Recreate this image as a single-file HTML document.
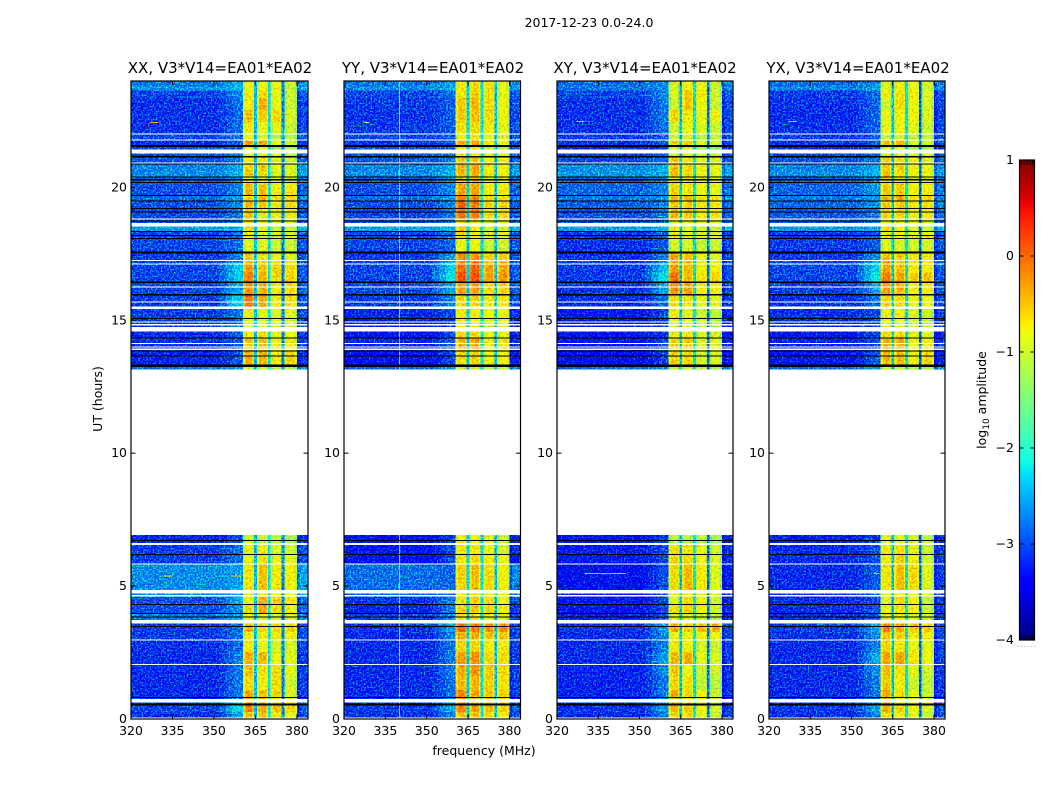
<!DOCTYPE html>
<html lang="en">
<head>
<meta charset="utf-8">
<title>2017-12-23 0.0-24.0</title>
<style>
html,body{margin:0;padding:0;background:#fff;width:1050px;height:800px;overflow:hidden}
svg{display:block}
text{font-family:"DejaVu Sans","Liberation Sans",sans-serif;fill:#000}
.t{font-size:12.5px}
.title{font-size:15px;text-anchor:middle}
</style>
</head>
<body>
<svg id="chart" xmlns="http://www.w3.org/2000/svg" width="1050" height="800" viewBox="0 0 1050 800">
<defs>
<filter id="grain" filterUnits="userSpaceOnUse" x="120" y="70" width="840" height="660" color-interpolation-filters="sRGB">
<feTurbulence type="fractalNoise" baseFrequency="0.62" numOctaves="1" seed="7" result="n"/>
<feColorMatrix in="n" type="matrix" values="0 0 0 0 0.25  0 2.4 0 0 -1.0  0 0 2 0 -0.75  0 0 0 0 1" result="m"/>
<feComposite in="SourceGraphic" in2="m" operator="arithmetic" k1="0" k2="1" k3="1" k4="-0.25" result="a"/>
<feComposite in="a" in2="SourceGraphic" operator="in"/>
</filter>
<filter id="band-grain" filterUnits="userSpaceOnUse" x="120" y="70" width="840" height="660" color-interpolation-filters="sRGB">
<feTurbulence type="fractalNoise" baseFrequency="0.5" numOctaves="1" seed="11" result="n"/>
<feColorMatrix in="n" type="matrix" values="0.7 0 0 0 -0.1  0 0.9 0 0 -0.2  0 0 0 0 0.25  0 0 0 0 1" result="m"/>
<feComposite in="SourceGraphic" in2="m" operator="arithmetic" k1="0" k2="1" k3="1" k4="-0.25" result="a"/>
<feComposite in="a" in2="SourceGraphic" operator="in"/>
</filter>
</defs>
<text class="t" x="589" y="27" text-anchor="middle">2017-12-23 0.0-24.0</text>
<text class="title" x="220" y="73">XX, V3*V14=EA01*EA02</text>
<text class="title" x="433" y="73">YY, V3*V14=EA01*EA02</text>
<text class="title" x="645" y="73">XY, V3*V14=EA01*EA02</text>
<text class="title" x="858" y="73">YX, V3*V14=EA01*EA02</text>
<text class="t" x="484" y="755" text-anchor="middle">frequency (MHz)</text>
<text class="t" x="0" y="0" text-anchor="middle" transform="translate(102,399) rotate(-90)">UT (hours)</text>
<text class="t" x="0" y="0" text-anchor="middle" transform="translate(986,400) rotate(-90)">log<tspan font-size="9" dy="3">10</tspan><tspan dy="-3"> amplitude</tspan></text>
<text x="1017" y="647" style="font-size:7px;fill:#888;letter-spacing:1.1px">......</text>
</svg>
<script>
// Axis data
const freqTicks = [320, 335, 350, 365, 380];
const hourTicks = [0, 5, 10, 15, 20];
const colorbarTicks = [-4, -3, -2, -1, 0, 1];
const colorbarTickLabels = ['\u22124', '\u22123', '\u22122', '\u22121', '0', '1'];
const colorbarEndTicks = [0.12, 0.3, 0.5, 0.7, 0.88];

// Time-bin edges (UT hours), one more than the number of rows below
const timeEdges = [24,23.8,23.65,23.35,22.9,22.45,22.05,21.8,21.58,21.32,21.17,20.9,20.64,20.41,20.15,19.7,19.47,19.2,18.83,18.53,18.35,18.08,17.56,17.18,16.8,16.43,15.98,15.49,15.08,14.7,14.36,13.87,13.31,13.14,6.92,6.54,6.2,5.83,4.85,4.59,4.32,3.98,3.61,3.27,2.97,2.52,2.07,1.62,1.09,0.64,0.26,0.06];

// Frequency-bin edges (MHz)
const freqEdges = [320,352,354.5,357,360.5,361.4,364,364.5,365.5,366.3,369,369.5,370.5,371.3,374,374.5,375.5,376.3,379.1,380,381,384];

// log10 amplitude per row: [background, band-edge glow, sub-band 1, 2, 3, 4]
const rowsXX = [
[-2.75,-2.5,-.8,-.8,-.8,-1],[-2.6,-2.4,-.8,-.7,-.8,-1],[-3,-2.7,-.7,-.6,-.8,-1],[-3.1,-2.8,-.7,-.35,-.8,-1],[-3.1,-2.8,-.45,-.5,-.6,-.9],[-3.1,-2.8,-.7,-.8,-.85,-1],[-3,-2.8,-.8,-.9,-1.1,-1.1],[-3.1,-2.9,-.3,-.3,-.85,-1],[-3,-2.9,-.8,-.8,-1.2,-1.2],[-3,-2.8,-.9,-.9,-1,-1.1],[-2.95,-2.75,-.75,-.7,-.85,-1],[-2.7,-2.5,-.55,-.5,-.8,-.9],[-2.65,-2.45,-.5,-.6,-.85,-.9],[-2.85,-2.6,-.7,-.8,-.95,-1],[-2.95,-2.7,-.4,-.45,-.75,-.7],[-2.8,-2.55,-.6,-.4,-.6,-.6],[-2.95,-2.7,-.45,-.5,-.7,-.6],[-3,-2.75,-.5,-.7,-.7,-.7],[-2.95,-2.75,-.7,-.8,-.9,-.9],[-2.55,-2.45,-.6,-.8,-1,-1],[-3,-2.8,-.7,-.85,-.9,-.9],[-3,-2.8,-.85,-.85,-1,-1],[-3.05,-2.7,-.5,-.6,-.8,-.85],[-3,-2.3,-.25,-.45,-.55,-.6],[-3,-2.3,-.1,-.4,-.6,-.55],[-3,-2.5,-.2,-.35,-.7,-.6],[-3.05,-2.3,-.05,-.3,-.7,-.65],[-3.05,-2.8,-.75,-.85,-.9,-.85],[-3.1,-2.9,-.85,-.9,-.95,-.95],[-3.15,-2.9,-.7,-.6,-.8,-.8],[-3.1,-2.9,-.5,-.45,-.75,-.7],[-3.2,-2.9,-.35,-.4,-.7,-.55],[-2.75,-2.55,-.9,-.9,-1,-1.1],
null,
[-3.2,-3,-.9,-.95,-1,-1.1],[-3.05,-2.8,-.75,-.7,-.9,-1],[-3.05,-2.8,-.75,-.6,-.8,-.85],[-2.65,-2.55,-.65,-.45,-.7,-.75],[-2.7,-2.6,-.7,-.7,-.75,-.8],[-2.95,-2.5,-.75,-.35,-.55,-.7],[-2.95,-2.65,-.6,-.35,-.6,-.75],[-2.75,-2.5,-.7,-.8,-.9,-.9],[-3.05,-2.8,-.35,-.55,-.6,-.55],[-3.05,-2.8,-.7,-.7,-.75,-.75],[-3.1,-2.8,-.7,-.8,-.9,-.9],[-3.15,-2.7,-.35,-.4,-.8,-.85],[-3.15,-2.75,-.45,-.65,-.6,-.85],[-3.15,-2.75,-.6,-.7,-.6,-.95],[-3.15,-2.75,-.3,-.45,-.55,-.9],[-3,-2.2,-.15,-.35,-.45,-.55],[-3.1,-2.55,-.5,-.5,-.7,-.8]
];
const rowsYY = [
[-2.75,-2.55,-.7,-.6,-.65,-.85],[-2.65,-2.45,-.7,-.6,-.65,-.85],[-3,-2.8,-.65,-.5,-.65,-.85],[-3.05,-2.9,-.5,-.4,-.6,-.8],[-3.1,-2.9,-.5,-.45,-.6,-.8],[-3.05,-2.9,-.65,-.6,-.7,-.85],[-3,-2.9,-.75,-.7,-.85,-.9],[-3.1,-2.9,-.3,-.3,-.65,-.75],[-3,-2.9,-.7,-.7,-1,-1.05],[-3,-2.8,-.75,-.7,-.9,-.95],[-2.95,-2.75,-.5,-.5,-.75,-.85],[-2.7,-2.5,-.35,-.3,-.7,-.75],[-2.65,-2.45,-.4,-.35,-.7,-.75],[-2.85,-2.6,-.55,-.5,-.8,-.85],[-2.95,-2.7,-.3,-.3,-.7,-.7],[-2.8,-2.6,-.1,-.15,-.6,-.6],[-2.95,-2.7,.05,-.1,-.6,-.55],[-3,-2.75,-.05,-.1,-.65,-.6],[-2.95,-2.75,-.6,-.65,-.85,-.85],[-2.55,-2.45,-.5,-.7,-.95,-.95],[-3,-2.8,-.55,-.7,-.85,-.85],[-3,-2.85,-.8,-.8,-1,-.95],[-3.05,-2.55,-.15,-.2,-.55,-.55],[-3,-2.3,0,.05,-.3,-.3],[-3,-2.2,.15,.15,-.25,-.2],[-3,-2.55,-.3,-.3,-.6,-.55],[-3.05,-2.7,-.6,-.55,-.7,-.7],[-3.2,-3,-.7,-.7,-.8,-.8],[-3.3,-3.1,-.75,-.8,-.9,-.9],[-3.3,-3,-.6,-.55,-.8,-.8],[-3.2,-2.9,-.35,-.3,-.75,-.65],[-3.35,-3,-.6,-.55,-.8,-.75],[-2.8,-2.6,-.9,-.9,-1,-1.05],
null,
[-3.4,-3.1,-.75,-.8,-.85,-1],[-3.3,-3,-.7,-.65,-.8,-.95],[-3.4,-3,-.65,-.55,-.7,-.8],[-2.8,-2.85,-.55,-.45,-.6,-.75],[-2.85,-2.85,-.6,-.55,-.7,-.8],[-3.1,-2.75,-.65,-.55,-.65,-.8],[-3.2,-2.75,-.55,-.5,-.6,-.75],[-3,-2.65,-.65,-.7,-.8,-.85],[-3.1,-2.55,0,-.1,-.2,-.2],[-3.15,-2.7,-.35,-.35,-.45,-.5],[-3.15,-2.8,-.55,-.6,-.7,-.7],[-3.15,-2.75,-.25,-.2,-.6,-.6],[-3.15,-2.75,-.35,-.2,-.5,-.6],[-3.15,-2.8,-.4,-.4,-.55,-.65],[-3.15,-2.8,-.15,-.35,-.5,-.55],[-3.05,-2.5,-.1,-.3,-.45,-.5],[-3.1,-2.7,-.45,-.45,-.6,-.7]
];
const rowsXY = [
[-2.8,-2.65,-.9,-.75,-.8,-1],[-2.75,-2.65,-.9,-.7,-.8,-1],[-3,-2.7,-.9,-.5,-.7,-1],[-3.1,-2.75,-.95,-.5,-.75,-1],[-3.1,-2.75,-.55,-.7,-.85,-.8],[-3.1,-2.8,-.95,-.8,-.9,-1],[-3.05,-2.9,-1,-.9,-1.1,-1.05],[-3.1,-2.9,-.5,-.55,-.95,-1],[-3.25,-3,-.9,-.85,-1.2,-1.3],[-3.1,-2.9,-1,-.9,-1.05,-1.1],[-3,-2.8,-.5,-.7,-.85,-.9],[-2.65,-2.5,-.45,-.6,-.75,-.8],[-2.6,-2.45,-.45,-.6,-.8,-.85],[-2.85,-2.6,-.6,-.75,-.85,-.9],[-2.85,-2.7,-.55,-.65,-.8,-.85],[-2.75,-2.6,-.35,-.4,-.65,-.6],[-2.9,-2.7,-.5,-.55,-.7,-.7],[-2.95,-2.75,-.4,-.5,-.7,-.65],[-2.95,-2.75,-.75,-.8,-.85,-.85],[-2.55,-2.45,-.65,-.85,-.95,-1],[-3.1,-2.9,-.7,-.85,-.9,-.9],[-3.1,-2.9,-.9,-.9,-1.05,-1],[-3.1,-2.75,-.3,-.45,-.8,-.85],[-3.05,-2.4,-.25,-.4,-.75,-.75],[-3.05,-2.2,0,-.4,-.65,-.6],[-3.1,-2.55,-.2,-.3,-.75,-.75],[-3.15,-2.8,-.6,-.65,-.85,-.85],[-3.3,-3,-.7,-.85,-1,-1.1],[-3.35,-3.1,-.85,-.85,-1,-1.1],[-3.35,-3.1,-.7,-.7,-.95,-.95],[-3.3,-3,-.55,-.5,-.9,-.85],[-3.4,-3,-.55,-.6,-.95,-.9],[-2.8,-2.6,-.9,-1,-1.1,-1.2],
null,
[-3.4,-3.1,-1,-1.05,-1.05,-1.2],[-3.25,-3,-.6,-.65,-.85,-1],[-3.3,-3,-.55,-.55,-.8,-.95],[-3.35,-2.95,-.6,-.4,-.7,-.9],[-3.3,-2.95,-.75,-.7,-.85,-.95],[-3.3,-3,-.85,-.6,-.8,-1],[-3.3,-3,-.6,-.55,-.75,-1],[-3.2,-2.85,-.85,-.85,-.95,-1.1],[-3.1,-2.55,-.3,-.5,-.4,-.4],[-3.15,-2.7,-.8,-.75,-.75,-.8],[-3.15,-2.75,-.7,-.75,-.95,-1],[-3.15,-2.55,-.4,-.35,-.85,-.95],[-3.2,-2.65,-.5,-.8,-1,-.95],[-3.2,-2.75,-.6,-.65,-1.05,-1.1],[-3.2,-2.75,-.3,-.6,-.75,-1],[-3.1,-2.55,-.35,-.5,-.75,-.95],[-3.15,-2.75,-.6,-.6,-.85,-1]
];
const rowsYX = [
[-2.8,-2.65,-.85,-.75,-.8,-.95],[-2.7,-2.55,-.8,-.7,-.8,-.95],[-3.05,-2.8,-.7,-.65,-.75,-.9],[-3.1,-2.85,-.95,-.6,-.8,-.95],[-3.15,-2.85,-.8,-.75,-.75,-.9],[-3.1,-2.85,-.8,-.8,-.85,-1],[-3.05,-2.9,-1,-.95,-1.05,-1.05],[-3.1,-2.9,-.45,-.4,-.9,-1],[-3.2,-3,-.9,-.9,-1.15,-1.2],[-3.05,-2.9,-.95,-.9,-.95,-1],[-2.95,-2.8,-.55,-.6,-.75,-.85],[-2.7,-2.5,-.5,-.55,-.75,-.8],[-2.65,-2.45,-.45,-.6,-.75,-.8],[-2.85,-2.6,-.6,-.7,-.9,-.9],[-2.85,-2.6,-.5,-.5,-.75,-.75],[-2.75,-2.6,-.35,-.3,-.65,-.55],[-2.85,-2.65,-.5,-.5,-.7,-.65],[-2.9,-2.7,-.55,-.6,-.75,-.7],[-2.95,-2.75,-.75,-.8,-.85,-.85],[-2.6,-2.5,-.65,-.8,-1,-1],[-3.05,-2.9,-.65,-.7,-.8,-.75],[-3.05,-2.9,-.85,-.9,-.95,-.95],[-3.05,-2.65,-.4,-.5,-.7,-.75],[-3,-2.3,-.3,-.45,-.7,-.7],[-3,-2.15,-.05,-.3,-.5,-.45],[-3.05,-2.55,-.3,-.4,-.75,-.7],[-3.1,-2.8,-.55,-.6,-.8,-.8],[-3.15,-3,-.75,-.75,-.95,-1],[-3.2,-3,-.85,-.85,-1,-1.05],[-3.3,-3,-.6,-.6,-.85,-.9],[-3.2,-3,-.35,-.35,-.75,-.7],[-3.3,-2.9,-.4,-.45,-.75,-.55],[-2.8,-2.6,-.85,-.9,-1,-1.05],
null,
[-3.25,-3.05,-.85,-.9,-.95,-1.05],[-3.15,-2.95,-.7,-.65,-.85,-1],[-3.15,-2.95,-.7,-.55,-.75,-.95],[-3.15,-2.9,-.65,-.45,-.6,-.9],[-3.1,-2.9,-.8,-.75,-.85,-.95],[-3.15,-3,-.85,-.6,-.75,-1],[-3.15,-2.9,-.8,-.7,-.75,-1],[-3.1,-2.9,-.75,-.75,-.9,-1],[-3.05,-2.5,-.15,-.35,-.5,-.5],[-3.1,-2.65,-.5,-.55,-.7,-.7],[-3.15,-2.7,-.55,-.65,-.8,-.85],[-3.15,-2.5,-.3,-.3,-.65,-.8],[-3.15,-2.65,-.45,-.6,-.85,-.95],[-3.15,-2.75,-.5,-.7,-1,-1.05],[-3.15,-2.8,-.3,-.6,-.8,-1],[-3.05,-2.55,-.35,-.55,-.75,-.9],[-3.1,-2.7,-.6,-.65,-.85,-1]
];

// Narrow channel dips between sub-bands: [365 MHz, 370 MHz, 375 MHz]
const dipsXX = [-2.4,-2.2,-2.7];
const dipsYY = [-2.3,-2.2,-2.4];
const dipsXY = [-2.4,-2.2,-2.8];
const dipsYX = [-2.4,-2.2,-2.9];

// Narrow RFI: [start MHz, end MHz, hour, log10 amplitude]
const streaksXX = [[327,330,22.45,-0.5],[332,335,5.4,-0.8],[356,360,5.4,-0.4]];
const streaksYY = [[327,329,22.45,-1.0]];
const streaksXY = [[327,330,22.5,-1.6],[330,345,5.5,-2.1]];
const streaksYX = [[327,330,22.5,-1.6],[358,360,5.5,-1.7]];

// Persistent single-channel line in YY: [MHz, log10 amplitude]
const channelLinesYY = [[340,-1.6]];

// Flagged time ranges [start hour, end hour], shared by all polarisations
const blankRanges = [[22.03,21.98],[21.8,21.77],[21.43,21.28],[20.94,20.9],[18.83,18.8],[18.66,18.53],[17.26,17.22],[17.14,17.11],[16.27,16.23],[15.71,15.68],[15.51,15.43],[14.95,14.91],[14.85,14.81],[14.74,14.57],[14.15,14.11],[14.02,13.98],[13.93,13.89],[6.63,6.55],[5.85,5.81],[4.85,4.73],[4.66,4.6],[3.72,3.6],[2.99,2.95],[2.07,2.03],[0.75,0.63]];
const zeroRanges = [[21.59,21.51],[21.17,21.13],[20.9,20.87],[20.41,20.38],[20.31,20.26],[20.2,20.16],[19.72,19.68],[19.51,19.47],[19.22,19.18],[19.1,19.06],[18.76,18.72],[18.36,18.33],[18.2,18.16],[18.1,18.06],[17.58,17.52],[16.45,16.41],[15.98,15.94],[15.08,15.04],[14.36,14.32],[13.87,13.83],[13.68,13.65],[13.33,13.25],[6.73,6.69],[6.2,6.17],[4.32,4.29],[3.98,3.95],[3.85,3.82],[3.5,3.47],[0.83,0.79],[0.58,0.51]];

// --- rendering ---
const NS = 'http://www.w3.org/2000/svg';
const svg = document.getElementById('chart');
function make(tag, parent, attrs) {
  const e = document.createElementNS(NS, tag);
  for (const k in attrs) e.setAttribute(k, attrs[k]);
  parent.appendChild(e);
  return e;
}
function interp(t, pts) {
  for (let i = 1; i < pts.length; i++) {
    if (t <= pts[i][0]) {
      const a = pts[i - 1], b = pts[i];
      return a[1] + (b[1] - a[1]) * (t - a[0]) / (b[0] - a[0]);
    }
  }
  return pts[pts.length - 1][1];
}
const jetR = [[0,0],[0.35,0],[0.66,1],[0.89,1],[1,0.5]];
const jetG = [[0,0],[0.125,0],[0.375,1],[0.64,1],[0.91,0],[1,0]];
const jetB = [[0,0.5],[0.11,1],[0.34,1],[0.65,0],[1,0]];
function colorOf(v) {
  const t = Math.max(0, Math.min(1, (v + 4) / 5));
  return 'rgb(' + Math.round(255 * interp(t, jetR)) + ',' + Math.round(255 * interp(t, jetG)) + ',' + Math.round(255 * interp(t, jetB)) + ')';
}
function yOf(h) { return 719 - h * (719 - 81) / 24; }

// value of column c (index into freqEdges) for a given row
function cellValue(row, dips, c) {
  const bg = row[0], glow = row[1];
  if (c === 0) return bg;
  if (c === 1) return bg + (glow - bg) * 0.3;
  if (c === 2) return bg + (glow - bg) * 0.65;
  if (c === 3) return glow;
  if (c >= 19) return c === 19 ? bg - 0.12 : bg + 0.12;
  const k = c - 4;
  const band = Math.floor(k / 4);
  const pos = k % 4;
  if (pos === 0) return row[2 + band] - 0.32;
  if (pos === 1) return row[2 + band];
  if (pos === 2) return row[2 + band] - 0.32;
  return dips[band];
}
function isBandColumn(c) { return c >= 4 && c < 19 && (c - 4) % 4 !== 3; }

function drawPanel(p) {
  const g = make('g', svg, {});
  
  
  const xOf = f => p.x0 + (f - 320) * (p.x1 - p.x0) / 64;
  const cells = make('g', g, { filter: 'url(#grain)', 'shape-rendering': 'crispEdges' });
  
  
  const bandCells = make('g', g, { filter: 'url(#band-grain)', 'shape-rendering': 'crispEdges' });
  
  
  p.rows.forEach((row, r) => {
    if (!row) return;
    const y0 = yOf(timeEdges[r]), y1 = yOf(timeEdges[r + 1]);
    for (let c = 0; c < freqEdges.length - 1; c++) {
      const x0 = xOf(freqEdges[c]), x1 = xOf(freqEdges[c + 1]);
      const cell = make('rect', isBandColumn(c) ? bandCells : cells, { x: x0, y: y0, width: x1 - x0, height: y1 - y0, fill: colorOf(cellValue(row, p.dips, c)) });
      
      
    }
    p.lines.forEach(l => {
      const line = make('rect', cells, { x: xOf(l[0]), y: y0, width: 1, height: y1 - y0, fill: colorOf(l[1]) });
      
      
    });
  });
  p.streaks.forEach(s => {
    const st = make('rect', cells, { x: xOf(s[0]), y: yOf(s[2]), width: xOf(s[1]) - xOf(s[0]), height: 1, fill: colorOf(s[3]) });
    
    
  });
  const flags = make('g', g, { 'shape-rendering': 'crispEdges' });
  
  
  blankRanges.forEach(b => {
    const fl = make('rect', flags, { x: p.x0, y: yOf(b[0]), width: p.x1 - p.x0, height: Math.max(1, yOf(b[1]) - yOf(b[0])), fill: '#fff' });
    
    
  });
  zeroRanges.forEach(b => {
    const fl = make('rect', flags, { x: p.x0, y: yOf(b[0]), width: p.x1 - p.x0, height: Math.max(1, yOf(b[1]) - yOf(b[0])), fill: '#000' });
    
    
  });
  const frame = make('rect', g, { x: p.x0, y: 81, width: p.x1 - p.x0, height: 638, fill: 'none', stroke: '#000', 'stroke-width': 1.2 });
  
  
  freqTicks.forEach(f => {
    const x = xOf(f);
    const t1 = make('line', g, { x1: x, x2: x, y1: 719, y2: 714.5, stroke: '#000', 'stroke-width': 1 });
    
    
    const t2 = make('line', g, { x1: x, x2: x, y1: 81, y2: 85.5, stroke: '#000', 'stroke-width': 1 });
    
    
    const lb = make('text', g, { class: 't', x: x, y: 735, 'text-anchor': 'middle' });
    
    
    lb.textContent = f;
  });
  hourTicks.forEach(h => {
    const y = yOf(h);
    const t1 = make('line', g, { x1: p.x0, x2: p.x0 + 4.5, y1: y, y2: y, stroke: '#000', 'stroke-width': 1 });
    
    
    const t2 = make('line', g, { x1: p.x1, x2: p.x1 - 4.5, y1: y, y2: y, stroke: '#000', 'stroke-width': 1 });
    
    
    const lb = make('text', g, { class: 't', x: p.x0 - 4, y: y + 4, 'text-anchor': 'end' });
    
    
    lb.textContent = h;
  });
}

drawPanel({ key: 'xx', x0: 131, x1: 308, rows: rowsXX, dips: dipsXX, streaks: streaksXX, lines: [] });
drawPanel({ key: 'yy', x0: 344, x1: 520.5, rows: rowsYY, dips: dipsYY, streaks: streaksYY, lines: channelLinesYY });
drawPanel({ key: 'xy', x0: 557, x1: 733, rows: rowsXY, dips: dipsXY, streaks: streaksXY, lines: [] });
drawPanel({ key: 'yx', x0: 769, x1: 945, rows: rowsYX, dips: dipsYX, streaks: streaksYX, lines: [] });

// Colorbar
const cb = make('g', svg, {});


const cbX = 1019.5, cbW = 15, cbTop = 160, cbBottom = 640;
const cbY = v => cbBottom - (v + 4) / 5 * (cbBottom - cbTop);
const ramp = make('g', cb, { 'shape-rendering': 'crispEdges' });


for (let i = 0; i < 240; i++) {
  const v = -4 + (i + 0.5) / 240 * 5;
  const s = make('rect', ramp, { x: cbX, y: cbBottom - (i + 1) * 2, width: cbW, height: 2, fill: colorOf(v) });
  
  
}
const cbFrame = make('rect', cb, { x: cbX, y: cbTop, width: cbW, height: cbBottom - cbTop, fill: 'none', stroke: '#000', 'stroke-width': 1.2 });


colorbarTicks.forEach((v, i) => {
  const y = cbY(v);
  const t1 = make('line', cb, { x1: cbX, x2: cbX + 4, y1: y, y2: y, stroke: '#000', 'stroke-width': 1 });
  
  
  const t2 = make('line', cb, { x1: cbX + cbW, x2: cbX + cbW - 4, y1: y, y2: y, stroke: '#000', 'stroke-width': 1 });
  
  
  const lb = make('text', cb, { class: 't', x: 1014, y: y + 4, 'text-anchor': 'end' });
  
  
  lb.textContent = colorbarTickLabels[i];
});
colorbarEndTicks.forEach(f => {
  const x = cbX + f * cbW;
  const t1 = make('line', cb, { x1: x, x2: x, y1: cbTop, y2: cbTop + 5, stroke: '#000', 'stroke-width': 1 });
  
  
  const t2 = make('line', cb, { x1: x, x2: x, y1: cbBottom, y2: cbBottom - 5, stroke: '#000', 'stroke-width': 1 });
  
  
});
</script>
</body>
</html>
